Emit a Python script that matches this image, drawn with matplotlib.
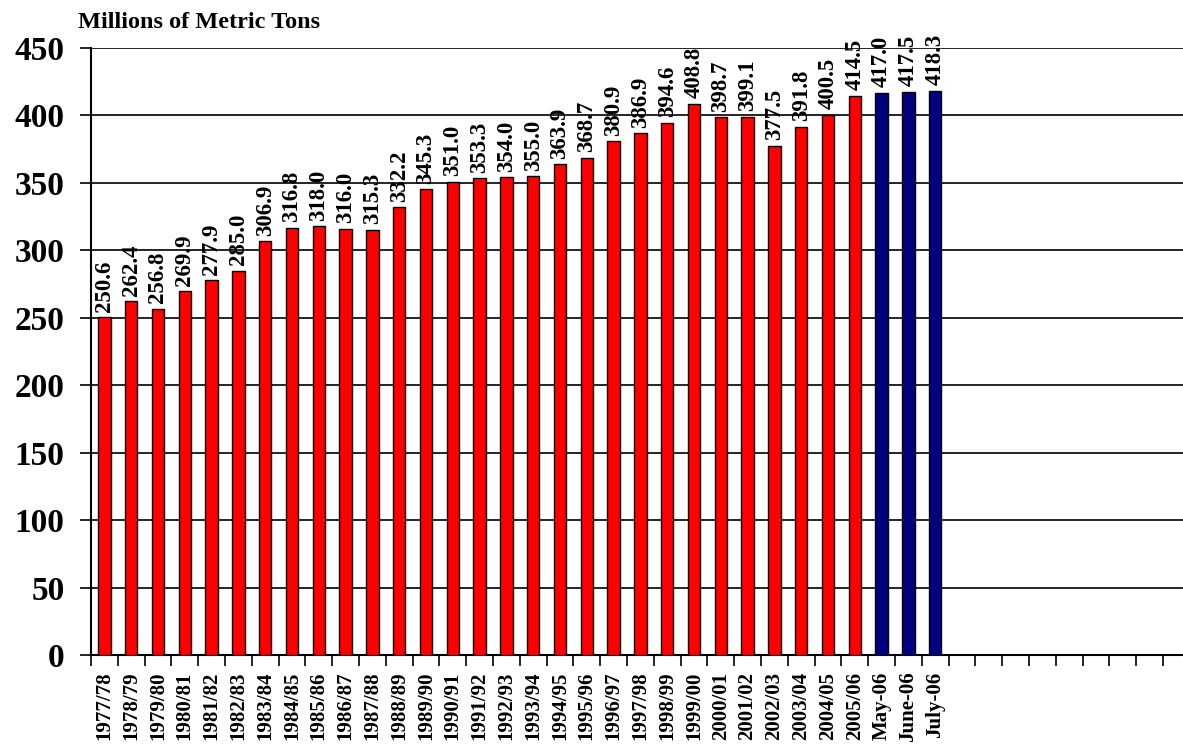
import matplotlib.pyplot as plt
import numpy as np

plt.rcParams['font.family'] = ['Liberation Serif', 'DejaVu Serif']
plt.rcParams['font.weight'] = 'bold'

seasons = ['1977/78', '1978/79', '1979/80', '1980/81', '1981/82', '1982/83',
           '1983/84', '1984/85', '1985/86', '1986/87', '1987/88', '1988/89',
           '1989/90', '1990/91', '1991/92', '1992/93', '1993/94', '1994/95',
           '1995/96', '1996/97', '1997/98', '1998/99', '1999/00', '2000/01',
           '2001/02', '2002/03', '2003/04', '2004/05', '2005/06']
season_vals = [250.6, 262.4, 256.8, 269.9, 277.9, 285.0, 306.9, 316.8, 318.0,
               316.0, 315.3, 332.2, 345.3, 351.0, 353.3, 354.0, 355.0, 363.9,
               368.7, 380.9, 386.9, 394.6, 408.8, 398.7, 399.1, 377.5, 391.8,
               400.5, 414.5]
months = ['May-06', 'June-06', 'July-06']
month_vals = [417.0, 417.5, 418.3]

labels = seasons + months
values = season_vals + month_vals
colors = ['#ff0000'] * len(seasons) + ['#000080'] * len(months)
n_slots = 40

fig = plt.figure(figsize=(11.83, 7.5), dpi=100)
ax = fig.add_axes([91 / 1183, 1 - 655 / 750, 1 - 91 / 1183, (655 - 48) / 750])

x = np.arange(len(values)) + 0.5
ax.bar(x, values, width=0.46, color=colors, edgecolor='black', linewidth=1, zorder=3)

for xi, v in zip(x, values):
    ax.text(xi, v + 4, '%.1f' % v, rotation=90, ha='center', va='bottom',
            fontsize=16.5, fontweight='bold', clip_on=False, zorder=4)

ax.set_ylim(0, 450)
ax.set_xlim(0, (1183 - 91) / 26.8)
ax.set_yticks(np.arange(0, 451, 50))
ax.tick_params(axis='y', labelsize=24, length=8, width=1.2, direction='out', pad=11)
ax.yaxis.grid(True, color='black', linewidth=1.2, zorder=0)

ax.set_xticks(np.arange(0, n_slots + 1))
ax.set_xticklabels([])
ax.set_xticks(x, minor=True)
ax.set_xticklabels(labels, minor=True, rotation=90, fontsize=15, fontweight='bold')
ax.tick_params(axis='x', which='major', length=8, width=1.2, direction='out')
ax.tick_params(axis='x', which='minor', length=0, pad=12)

for side in ['top', 'right']:
    ax.spines[side].set_visible(False)
ax.spines['left'].set_linewidth(1.5)
ax.spines['bottom'].set_linewidth(1.5)

fig.text(78 / 1183, 1 - 22 / 750, 'Millions of Metric Tons', fontsize=17.5,
         fontweight='bold', va='center', ha='left')

fig.savefig('out.png', dpi=100)
